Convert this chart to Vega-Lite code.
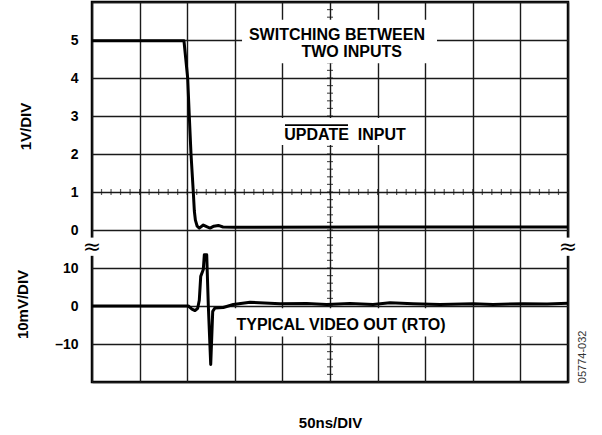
{
  "$schema": "https://vega.github.io/schema/vega-lite/v6.json",
  "width": 476,
  "height": 380,
  "autosize": {"type": "none"},
  "padding": {"left": 92, "top": 2, "right": 34, "bottom": 53},
  "background": "white",
  "config": {
    "view": {"stroke": "#000", "strokeWidth": 2.5},
    "font": "Liberation Sans",
    "axis": {"labelFont": "Liberation Sans", "titleFont": "Liberation Sans"}
  },
  "datasets": {
    "update": [
      {"t": 0, "v": 4.98}, {"t": 96.6, "v": 4.98}, {"t": 100.5, "v": 4.0}, {"t": 102.2, "v": 3.0},
      {"t": 104.0, "v": 2.0}, {"t": 106.4, "v": 1.0}, {"t": 107.5, "v": 0.5}, {"t": 108.6, "v": 0.26},
      {"t": 110.5, "v": 0.1}, {"t": 112.7, "v": 0.05}, {"t": 116.9, "v": 0.13}, {"t": 121, "v": 0.08},
      {"t": 124, "v": 0.05}, {"t": 128, "v": 0.1}, {"t": 132.7, "v": 0.12}, {"t": 137.6, "v": 0.08},
      {"t": 150, "v": 0.07}, {"t": 300, "v": 0.08}, {"t": 500, "v": 0.08}
    ],
    "video": [
      {"t": 0, "mv": 0}, {"t": 101.2, "mv": 0}, {"t": 105, "mv": -0.8}, {"t": 108.2, "mv": -1.2},
      {"t": 111, "mv": -0.6}, {"t": 112.7, "mv": 1.5}, {"t": 114.2, "mv": 7.8}, {"t": 116.9, "mv": 9.6},
      {"t": 118, "mv": 13.5}, {"t": 120.5, "mv": 13.5}, {"t": 122.2, "mv": 0}, {"t": 124.7, "mv": -15.4},
      {"t": 126.8, "mv": -1.4}, {"t": 129.2, "mv": -0.5}, {"t": 137.9, "mv": -0.4}, {"t": 148.4, "mv": 0.4},
      {"t": 166, "mv": 1.0}, {"t": 197.5, "mv": 0.6}, {"t": 225.5, "mv": 0.65}, {"t": 246.5, "mv": 0.4},
      {"t": 271, "mv": 0.65}, {"t": 295.2, "mv": 0.4}, {"t": 313, "mv": 0.85}, {"t": 337.2, "mv": 0.6},
      {"t": 365.5, "mv": 0.4}, {"t": 400.2, "mv": 0.6}, {"t": 421.2, "mv": 0.4}, {"t": 452.7, "mv": 0.6},
      {"t": 478, "mv": 0.55}, {"t": 500, "mv": 0.75}
    ],
    "hticks": [
      {"t": 0, "v": 1}, {"t": 10, "v": 1}, {"t": 20, "v": 1}, {"t": 30, "v": 1}, {"t": 40, "v": 1}, {"t": 50, "v": 1},
      {"t": 60, "v": 1}, {"t": 70, "v": 1}, {"t": 80, "v": 1}, {"t": 90, "v": 1}, {"t": 100, "v": 1}, {"t": 110, "v": 1},
      {"t": 120, "v": 1}, {"t": 130, "v": 1}, {"t": 140, "v": 1}, {"t": 150, "v": 1}, {"t": 160, "v": 1}, {"t": 170, "v": 1},
      {"t": 180, "v": 1}, {"t": 190, "v": 1}, {"t": 200, "v": 1}, {"t": 210, "v": 1}, {"t": 220, "v": 1}, {"t": 230, "v": 1},
      {"t": 240, "v": 1}, {"t": 250, "v": 1}, {"t": 260, "v": 1}, {"t": 270, "v": 1}, {"t": 280, "v": 1}, {"t": 290, "v": 1},
      {"t": 300, "v": 1}, {"t": 310, "v": 1}, {"t": 320, "v": 1}, {"t": 330, "v": 1}, {"t": 340, "v": 1}, {"t": 350, "v": 1},
      {"t": 360, "v": 1}, {"t": 370, "v": 1}, {"t": 380, "v": 1}, {"t": 390, "v": 1}, {"t": 400, "v": 1}, {"t": 410, "v": 1},
      {"t": 420, "v": 1}, {"t": 430, "v": 1}, {"t": 440, "v": 1}, {"t": 450, "v": 1}, {"t": 460, "v": 1}, {"t": 470, "v": 1},
      {"t": 480, "v": 1}, {"t": 490, "v": 1}, {"t": 500, "v": 1}
    ],
    "vticks": [
      {"t": 250, "v": -4}, {"t": 250, "v": -3.8}, {"t": 250, "v": -3.6}, {"t": 250, "v": -3.4}, {"t": 250, "v": -3.2},
      {"t": 250, "v": -3}, {"t": 250, "v": -2.8}, {"t": 250, "v": -2.6}, {"t": 250, "v": -2.4}, {"t": 250, "v": -2.2},
      {"t": 250, "v": -2}, {"t": 250, "v": -1.8}, {"t": 250, "v": -1.6}, {"t": 250, "v": -1.4}, {"t": 250, "v": -1.2},
      {"t": 250, "v": -1}, {"t": 250, "v": -0.8}, {"t": 250, "v": -0.6}, {"t": 250, "v": -0.4}, {"t": 250, "v": -0.2},
      {"t": 250, "v": 0}, {"t": 250, "v": 0.2}, {"t": 250, "v": 0.4}, {"t": 250, "v": 0.6}, {"t": 250, "v": 0.8},
      {"t": 250, "v": 1}, {"t": 250, "v": 1.2}, {"t": 250, "v": 1.4}, {"t": 250, "v": 1.6}, {"t": 250, "v": 1.8},
      {"t": 250, "v": 2}, {"t": 250, "v": 2.2}, {"t": 250, "v": 2.4}, {"t": 250, "v": 2.6}, {"t": 250, "v": 2.8},
      {"t": 250, "v": 3}, {"t": 250, "v": 3.2}, {"t": 250, "v": 3.4}, {"t": 250, "v": 3.6}, {"t": 250, "v": 3.8},
      {"t": 250, "v": 4}, {"t": 250, "v": 4.2}, {"t": 250, "v": 4.4}, {"t": 250, "v": 4.6}, {"t": 250, "v": 4.8},
      {"t": 250, "v": 5}, {"t": 250, "v": 5.2}, {"t": 250, "v": 5.4}, {"t": 250, "v": 5.6}, {"t": 250, "v": 5.8},
      {"t": 250, "v": 6}
    ],
    "boxes_v": [
      {"t1": 157.6, "t2": 362.4, "v1": 4.39, "v2": 5.53},
      {"t1": 195, "t2": 339, "v1": 2.24, "v2": 2.95},
      {"t1": -8, "t2": 8, "v1": -0.68, "v2": -0.2},
      {"t1": 492, "t2": 508, "v1": -0.68, "v2": -0.2}
    ],
    "boxes_mv": [
      {"t1": 143, "t2": 376, "m1": -8.0, "m2": -0.6}
    ],
    "labels_v": [
      {"t": 257.3, "v": 5.13, "text": "SWITCHING BETWEEN"},
      {"t": 272.8, "v": 4.68, "text": "TWO INPUTS"},
      {"t": 265.8, "v": 2.51, "text": "UPDATE\u00a0\u00a0INPUT"}
    ],
    "labels_mv": [
      {"t": 261.6, "mv": -5.08, "text": "TYPICAL VIDEO OUT (RTO)"}
    ],
    "breaks": [
      {"t": 0, "v": -0.46, "text": "\u2248"},
      {"t": 500, "v": -0.46, "text": "\u2248"}
    ],
    "overline": [
      {"t1": 202.7, "t2": 268.9, "v": 2.76}
    ],
    "figid": [
      {"t": 515.7, "v": -4.03, "text": "05774-032"}
    ]
  },
  "resolve": {"scale": {"y": "independent"}, "axis": {"y": "independent"}},
  "layer": [
    {
      "encoding": {
        "x": {
          "field": "t", "type": "quantitative",
          "scale": {"domain": [0, 500], "nice": false, "zero": false},
          "axis": {
            "values": [0, 50, 100, 150, 200, 250, 300, 350, 400, 450, 500],
            "grid": true, "gridColor": "#1a1a1a", "gridWidth": 1.4,
            "labels": false, "ticks": false, "domain": false,
            "title": "50ns/DIV", "titleFontSize": 15, "titleFontWeight": "bold", "titleColor": "#000",
            "titleX": 238, "titleY": 45, "titleBaseline": "alphabetic", "titleAlign": "center"
          }
        },
        "y": {
          "field": "v", "type": "quantitative",
          "scale": {"domain": [-4, 6], "nice": false, "zero": false},
          "axis": {
            "values": [-4, -3, -2, -1, 0, 1, 2, 3, 4, 5, 6],
            "grid": true, "gridColor": "#1a1a1a", "gridWidth": 1.4,
            "ticks": false, "tickSize": 0, "domain": false,
            "labelExpr": "datum.value >= 0 && datum.value <= 5 ? datum.label : ''",
            "labelFontSize": 14, "labelFontWeight": "bold", "labelColor": "#000", "labelPadding": 14,
            "labelOverlap": false,
            "title": "1V/DIV", "titleFontSize": 15, "titleFontWeight": "bold", "titleColor": "#000",
            "titleX": -67, "titleY": 124, "titleAngle": -90, "titleAlign": "center", "titleBaseline": "middle"
          }
        }
      },
      "layer": [
        {
          "data": {"name": "vticks"},
          "mark": {"type": "tick", "orient": "horizontal", "size": 6, "thickness": 1.2, "color": "#111"}
        },
        {
          "data": {"name": "hticks"},
          "mark": {"type": "tick", "orient": "vertical", "size": 6, "thickness": 1.2, "color": "#111"}
        },
        {
          "data": {"name": "boxes_v"},
          "mark": {"type": "rect", "color": "white"},
          "encoding": {
            "x": {"field": "t1", "type": "quantitative"},
            "x2": {"field": "t2"},
            "y": {"field": "v1", "type": "quantitative"},
            "y2": {"field": "v2"}
          }
        },
        {
          "data": {"name": "labels_v"},
          "mark": {"type": "text", "font": "Liberation Sans", "fontSize": 16, "fontWeight": "bold", "color": "#000", "align": "center", "baseline": "middle"},
          "encoding": {"text": {"field": "text"}}
        },
        {
          "data": {"name": "overline"},
          "mark": {"type": "rule", "strokeWidth": 1.6, "color": "#000"},
          "encoding": {
            "x": {"field": "t1", "type": "quantitative"},
            "x2": {"field": "t2"}
          }
        },
        {
          "data": {"name": "breaks"},
          "mark": {"type": "text", "font": "DejaVu Sans", "fontSize": 22, "color": "#000", "align": "center", "baseline": "middle"},
          "encoding": {"text": {"field": "text"}}
        },
        {
          "data": {"name": "figid"},
          "mark": {"type": "text", "font": "Liberation Sans", "fontSize": 11, "color": "#333", "align": "left", "baseline": "middle", "angle": 270},
          "encoding": {"text": {"field": "text"}}
        },
        {
          "data": {"name": "update"},
          "mark": {"type": "line", "strokeWidth": 3, "color": "#000", "strokeJoin": "round"},
          "encoding": {}
        }
      ]
    },
    {
      "layer": [
        {
          "data": {"name": "boxes_mv"},
          "mark": {"type": "rect", "color": "white"},
          "encoding": {
            "x": {"field": "t1", "type": "quantitative"},
            "x2": {"field": "t2"},
            "y": {
              "field": "m1", "type": "quantitative",
              "scale": {"domain": [-20, 80], "nice": false, "zero": false},
              "axis": {
                "orient": "left",
                "values": [-10, 0, 10],
                "grid": false, "ticks": false, "tickSize": 0, "domain": false,
                "labelExpr": "datum.value < 0 ? '\u2013' + abs(datum.value) : datum.label",
                "labelFontSize": 14, "labelFontWeight": "bold", "labelColor": "#000", "labelPadding": 14,
                "title": "10mV/DIV", "titleFontSize": 15, "titleFontWeight": "bold", "titleColor": "#000",
                "titleX": -70, "titleY": 302, "titleAngle": -90, "titleAlign": "center", "titleBaseline": "middle"
              }
            },
            "y2": {"field": "m2"}
          }
        },
        {
          "data": {"name": "labels_mv"},
          "mark": {"type": "text", "font": "Liberation Sans", "fontSize": 16, "fontWeight": "bold", "color": "#000", "align": "center", "baseline": "middle"},
          "encoding": {
            "x": {"field": "t", "type": "quantitative"},
            "y": {"field": "mv", "type": "quantitative"},
            "text": {"field": "text"}
          }
        },
        {
          "data": {"name": "video"},
          "mark": {"type": "line", "strokeWidth": 3, "color": "#000", "strokeJoin": "round"},
          "encoding": {
            "x": {"field": "t", "type": "quantitative"},
            "y": {"field": "mv", "type": "quantitative"}
          }
        }
      ]
    }
  ]
}
